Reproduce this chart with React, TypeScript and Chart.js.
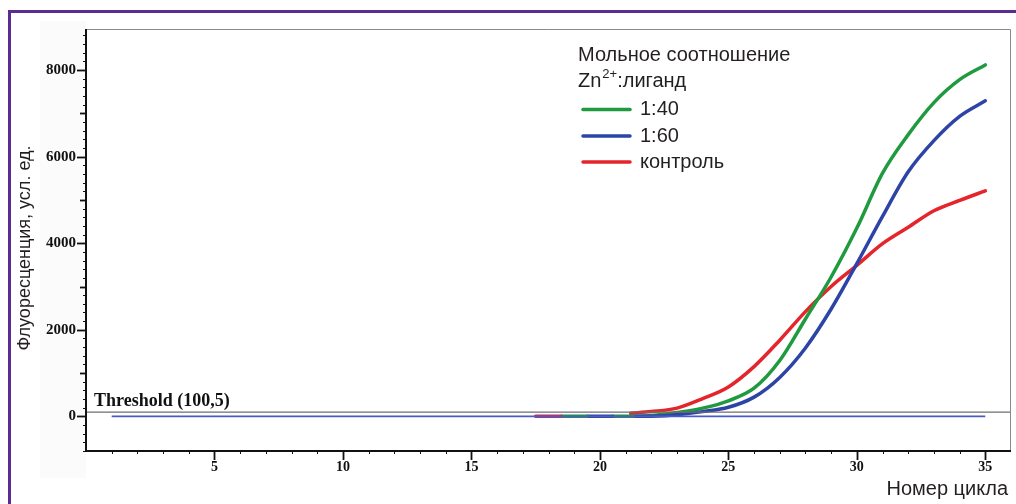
import { useEffect, useRef } from "react";
import { Chart, registerables } from "chart.js";

Chart.register(...registerables);

// ---- data ----
const yTickLabels = [0, 2000, 4000, 6000, 8000];
const xTickLabels = [5, 10, 15, 20, 25, 30, 35];
const thresholdValue = 100;
const thresholdLabel = "Threshold (100,5)";

const baselineCycles = [1, 35];
const baselineValues = [0, 0];

const ratio40Cycles = [21.3, 22, 23, 24, 25, 26, 27, 28, 29, 30, 31, 32, 33, 34, 35];
const ratio40Values = [0, 20, 90, 190, 360, 650, 1290, 2250, 3220, 4350, 5620, 6510, 7250, 7780, 8120];

const ratio60Cycles = [21.3, 22, 23, 24, 25, 26, 27, 28, 29, 30, 31, 32, 33, 34, 35];
const ratio60Values = [0, 5, 40, 110, 210, 445, 900, 1580, 2480, 3530, 4620, 5650, 6370, 6930, 7290];

const controlCycles = [21.2, 22, 23, 24, 25, 26, 27, 28, 29, 30, 31, 32, 33, 34, 35];
const controlValues = [70, 110, 190, 410, 680, 1150, 1760, 2420, 3000, 3490, 3990, 4370, 4750, 4990, 5210];

// short flat pieces on the baseline before the rise
const controlFlatCycles = [17.5, 18.5];
const ratio40FlatCycles1 = [18.5, 19.5];
const ratio60FlatCycles = [19.5, 20.5];
const ratio40FlatCycles2 = [20.5, 21.3];
const flatValues = [0, 0];

const legendTitle1 = "Мольное соотношение";
const legendLabels = ["1:40", "1:60", "контроль"];
const yTitle = "Флуоресценция, усл. ед.";
const xTitle = "Номер цикла";

const GREEN = "#1f9a3e";
const BLUE = "#2d44a6";
const RED = "#e5242b";
const BASE_BLUE = "#4b5cc4";
const PURPLE = "#5b2c8f";
const TEXT = "#231f20";

const pts = (xs: number[], ys: number[]) => xs.map((x, i) => ({ x, y: ys[i] }));

const decorPlugin = {
  id: "decor",
  beforeDraw(chart: any) {
    const ctx = chart.ctx;
    ctx.save();
    ctx.fillStyle = "#ffffff";
    ctx.fillRect(0, 0, chart.width, chart.height);
    // faint panel of the pasted figure
    ctx.fillStyle = "#fbfbfb";
    ctx.fillRect(40, 21, 46, 457);
    ctx.fillStyle = "#ffffff";
    const a = chart.chartArea;
    ctx.fillRect(a.left, a.top, a.right - a.left, a.bottom - a.top);
    // purple frame (top + left)
    ctx.fillStyle = PURPLE;
    ctx.fillRect(8, 10, chart.width - 8, 3);
    ctx.fillRect(8, 10, 3, chart.height - 10);
    ctx.restore();
  },
  afterDraw(chart: any) {
    const ctx = chart.ctx;
    const a = chart.chartArea;
    const xs = chart.scales.x;
    const ys = chart.scales.y;
    ctx.save();
    // top/right frame (gray)
    ctx.strokeStyle = "#8a8a8a";
    ctx.lineWidth = 1;
    ctx.beginPath();
    ctx.moveTo(a.left, a.top + 0.5);
    ctx.lineTo(a.right - 0.5, a.top + 0.5);
    ctx.lineTo(a.right - 0.5, a.bottom);
    ctx.stroke();
    // black axes
    ctx.strokeStyle = "#111";
    ctx.lineWidth = 2;
    ctx.beginPath();
    ctx.moveTo(a.left, a.top);
    ctx.lineTo(a.left, a.bottom);
    ctx.lineTo(a.right, a.bottom);
    ctx.stroke();
    // y tick marks
    for (let v = -800; v <= ys.max; v += 200) {
      const y = Math.round(ys.getPixelForValue(v)) + 0.5;
      const len = v % 2000 === 0 ? 9 : v % 1000 === 0 ? 6 : 3;
      ctx.lineWidth = v % 1000 === 0 ? 1.8 : 1;
      ctx.beginPath();
      ctx.moveTo(a.left - len, y);
      ctx.lineTo(a.left, y);
      ctx.stroke();
    }
    // x tick marks
    for (let c = 1; c < xs.max; c += 1) {
      const x = Math.round(xs.getPixelForValue(c)) + 0.5;
      const len = c % 5 === 0 ? 9 : 3;
      ctx.lineWidth = c % 5 === 0 ? 1.8 : 1;
      ctx.beginPath();
      ctx.moveTo(x, a.bottom);
      ctx.lineTo(x, a.bottom + len);
      ctx.stroke();
    }
    // threshold label
    ctx.fillStyle = "#111";
    ctx.font = 'bold 18px "Liberation Serif", "Times New Roman", serif';
    ctx.textAlign = "left";
    ctx.textBaseline = "alphabetic";
    ctx.fillText(thresholdLabel, 94, 406);

    // axis titles
    ctx.fillStyle = TEXT;
    ctx.font = '20px "Liberation Sans", Arial, sans-serif';
    ctx.textAlign = "right";
    ctx.textBaseline = "middle";
    ctx.fillText(xTitle, 1008, 489);
    ctx.save();
    ctx.font = '18px "Liberation Sans", Arial, sans-serif';
    ctx.translate(25, 248);
    ctx.rotate(-Math.PI / 2);
    ctx.textAlign = "center";
    ctx.fillText(yTitle, 0, 0);
    ctx.restore();

    // legend
    ctx.textAlign = "left";
    ctx.textBaseline = "middle";
    ctx.font = '20px "Liberation Sans", Arial, sans-serif';
    ctx.fillText(legendTitle1, 578, 55);
    let lx = 578;
    ctx.fillText("Zn", lx, 81);
    lx += ctx.measureText("Zn").width + 1;
    ctx.font = '13px "Liberation Sans", Arial, sans-serif';
    ctx.fillText("2+", lx, 74);
    lx += ctx.measureText("2+").width;
    ctx.font = '20px "Liberation Sans", Arial, sans-serif';
    ctx.fillText(":лиганд", lx, 81);
    const colors = [GREEN, BLUE, RED];
    const ly = [109.5, 136, 162];
    legendLabels.forEach((lab, i) => {
      ctx.strokeStyle = colors[i];
      ctx.lineWidth = 3.5;
      ctx.lineCap = "round";
      ctx.beginPath();
      ctx.moveTo(583, ly[i]);
      ctx.lineTo(630, ly[i]);
      ctx.stroke();
      ctx.fillStyle = TEXT;
      ctx.fillText(lab, 640, ly[i]);
    });
    ctx.restore();
  },
};

export default function App() {
  const ref = useRef<HTMLCanvasElement | null>(null);
  useEffect(() => {
    if (!ref.current) return;
    const thick = (data: any, color: string) => ({
      data,
      borderColor: color,
      backgroundColor: color,
      borderWidth: 3.5,
      pointRadius: 0,
      cubicInterpolationMode: "monotone",
      borderCapStyle: "round",
      borderJoinStyle: "round",
      fill: false,
    });
    const chart = new Chart(ref.current, {
      type: "line",
      data: {
        datasets: [
          {
            data: [
              { x: 0, y: thresholdValue },
              { x: 36, y: thresholdValue },
            ],
            borderColor: "#6e6e6e",
            borderWidth: 1.2,
            pointRadius: 0,
          } as any,
          {
            data: pts(baselineCycles, baselineValues),
            borderColor: BASE_BLUE,
            borderWidth: 1.8,
            pointRadius: 0,
          } as any,
          thick(pts(controlFlatCycles, flatValues), "#c8285a"),
          thick(pts(ratio40FlatCycles1, flatValues), GREEN),
          thick(pts(ratio60FlatCycles, flatValues), BLUE),
          thick(pts(ratio40FlatCycles2, flatValues), GREEN),
          thick(pts(ratio60Cycles, ratio60Values), BLUE),
          thick(pts(ratio40Cycles, ratio40Values), GREEN),
          thick(pts(controlCycles, controlValues), RED),
        ],
      },
      options: {
        responsive: false,
        animation: false,
        events: [],
        layout: { padding: { top: 29, right: 5, left: 0, bottom: 0 } },
        plugins: { legend: { display: false }, tooltip: { enabled: false } },
        scales: {
          x: {
            type: "linear",
            min: 0,
            max: 36,
            grid: { display: false, drawTicks: false },
            border: { display: false },
            afterFit: (s: any) => {
              s.height = 53;
            },
            afterBuildTicks: (s: any) => {
              s.ticks = xTickLabels.map((v) => ({ value: v }));
            },
            ticks: {
              autoSkip: false,
              maxRotation: 0,
              padding: 8,
              color: "#111",
              callback: (v: any) => String(v),
              font: { family: '"Liberation Serif", "Times New Roman", serif', size: 14, weight: "bold" },
            },
          },
          y: {
            type: "linear",
            min: -800,
            max: 8950,
            grid: { display: false, drawTicks: false },
            border: { display: false },
            afterFit: (s: any) => {
              s.width = 86;
            },
            afterBuildTicks: (s: any) => {
              s.ticks = yTickLabels.map((v) => ({ value: v }));
            },
            ticks: {
              autoSkip: false,
              padding: 10,
              color: "#111",
              callback: (v: any) => String(v),
              font: { family: '"Liberation Serif", "Times New Roman", serif', size: 15, weight: "bold" },
            },
          },
        },
      } as any,
      plugins: [decorPlugin],
    });
    return () => chart.destroy();
  }, []);
  return (
    <div style={{ position: "fixed", left: 0, top: 0, width: 1016, height: 504 }}>
      <canvas ref={ref} width={1016} height={504} style={{ display: "block" }} />
    </div>
  );
}
